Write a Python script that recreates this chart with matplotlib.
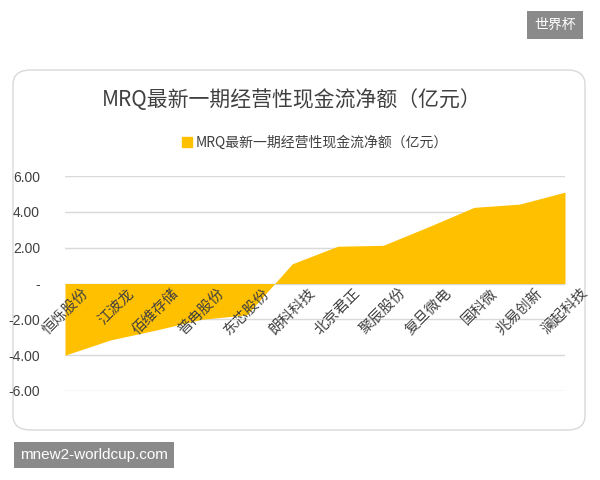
import matplotlib
matplotlib.use("Agg")
import matplotlib.pyplot as plt
from matplotlib.patches import FancyBboxPatch, Patch

plt.rcParams['font.family'] = ['Noto Sans CJK SC', 'DejaVu Sans']

categories = ["恒烁股份", "江波龙", "佰维存储", "普冉股份", "东芯股份", "朗科科技",
              "北京君正", "聚辰股份", "复旦微电", "国科微", "兆易创新", "澜起科技"]
values = [-4.0, -3.15, -2.6, -2.0, -1.75, 1.1, 2.08, 2.13, 3.17, 4.25, 4.43, 5.1]
yticks = [6, 4, 2, 0, -2, -4, -6]
ylabels = ["6.00", "4.00", "2.00", "-", "-2.00", "-4.00", "-6.00"]
title = "MRQ最新一期经营性现金流净额（亿元）"

W, H = 600, 480
fig = plt.figure(figsize=(6, 4.8), dpi=100)
fig.patch.set_facecolor("white")
card = FancyBboxPatch((13 / W, 1 - 430 / H), 572 / W, 360 / H,
                      boxstyle="round,pad=0,rounding_size=0.03",
                      transform=fig.transFigure, facecolor="white",
                      edgecolor="#d9d9d9", linewidth=1, zorder=-10)
fig.patches.append(card)

ax = fig.add_axes([65 / W, 1 - 391 / H, 500 / W, 215 / H])
ax.set_facecolor("none")
x = list(range(len(categories)))
ax.fill_between(x, values, 0, color="#FFC000", linewidth=0, zorder=2)
ax.set_xlim(0, len(categories) - 1)
ax.set_ylim(-6, 6)
ax.set_yticks(yticks)
ax.set_yticklabels(ylabels, fontsize=10, color="#404040", family=['Liberation Sans', 'DejaVu Sans'])
for yv in yticks:
    ax.axhline(yv, color="#d9d9d9", lw=1, zorder=0)
for s in ax.spines.values():
    s.set_visible(False)
ax.tick_params(length=0, axis='y', pad=18)
ax.set_xticks([])
for i, c in enumerate(categories):
    ax.text(i + 0.35, -0.15, c, rotation=45, ha="right", va="top",
            fontsize=10.5, color="#404040", rotation_mode="anchor", zorder=3)

fig.text(292 / W, 1 - 100 / H, title, ha="center", va="center", fontsize=15, color="#404040")
ax.legend(handles=[Patch(color="#FFC000", label=title)], loc="center",
          bbox_to_anchor=(0.5, (391 - 143) / 215), frameon=False,
          fontsize=10, handlelength=0.7, handleheight=0.7, handletextpad=0.3,
          labelcolor="#404040")

fig.text(555 / W, 1 - 25 / H, "世界杯", ha="center", va="center", fontsize=10, color="white",
         bbox=dict(boxstyle="square,pad=0.5", fc="#8a8a8a", ec="none"))
fig.text(20 / W, 1 - 455 / H, "mnew2-worldcup.com", ha="left", va="center", fontsize=11,
         color="white", family=['Liberation Sans', 'DejaVu Sans'],
         bbox=dict(boxstyle="square,pad=0.4", fc="#8a8a8a", ec="none"))

fig.savefig("out.png", dpi=100)
